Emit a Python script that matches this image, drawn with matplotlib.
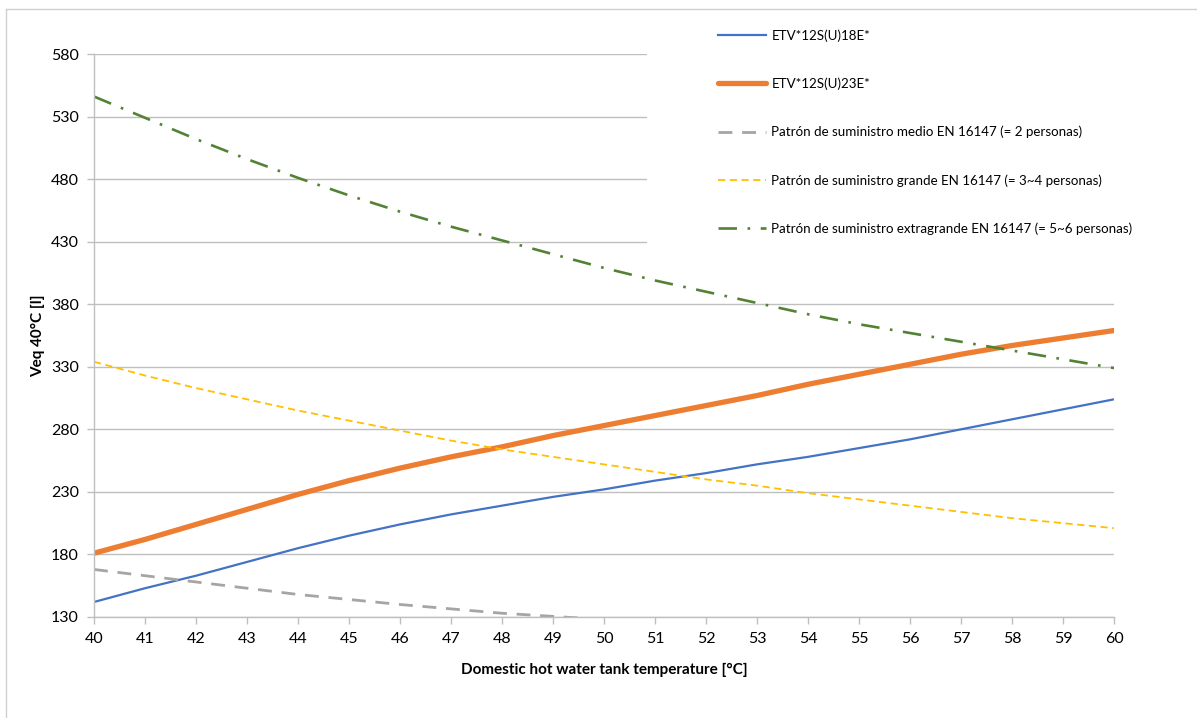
import numpy as np
import matplotlib.pyplot as plt
from matplotlib.lines import Line2D

# -----------------------------------------------------------------------------
# Data
# -----------------------------------------------------------------------------
temps = list(range(40, 61))

etv_18e = [142, 153, 163, 174, 185, 195, 204, 212, 219, 226, 232,
           239, 245, 252, 258, 265, 272, 280, 288, 296, 304]
etv_23e = [181, 192, 204, 216, 228, 239, 249, 258, 266, 275, 283,
           291, 299, 307, 316, 324, 332, 340, 347, 353, 359]
medio = [168, 163, 158, 153, 148, 144, 140, 136.5, 133, 130.5, 128,
         125, 122, 119, 117, 114, 112, 110, 108, 106, 104]
grande = [334, 323, 313, 304, 295, 287, 279, 271, 264, 258, 252,
          246, 240, 235, 229, 224, 219, 214, 209, 205, 201]
extragrande = [546, 529, 512, 496, 481, 467, 454, 442, 431, 420, 409,
               399, 390, 381, 372, 364, 357, 350, 343, 336, 329]

labels = ['ETV*12S(U)18E*',
          'ETV*12S(U)23E*',
          'Patrón de suministro medio EN 16147 (= 2 personas)',
          'Patrón de suministro grande EN 16147 (= 3~4 personas)',
          'Patrón de suministro extragrande EN 16147 (= 5~6 personas)']

y_ticks = list(range(130, 581, 50))

# -----------------------------------------------------------------------------
# Figure
# -----------------------------------------------------------------------------
plt.rcParams['font.family'] = ['Lato', 'DejaVu Sans']

W, H = 1197, 718
fig = plt.figure(figsize=(W / 100, H / 100), dpi=100)
ax = fig.add_axes([94 / W, 1 - 617 / H, (1114 - 94) / W, (617 - 54) / H])

grid_col = '#BFBFBF'

ax.plot(temps, etv_18e, color='#4472C4', lw=1.6, label=labels[0])
ax.plot(temps, etv_23e, color='#ED7D31', lw=3.8, label=labels[1],
        solid_capstyle='round')
ax.plot(temps, medio, color='#A5A5A5', lw=2.0, dashes=(5, 3.5), label=labels[2])
ax.plot(temps, grande, color='#FFC000', lw=1.3, dashes=(4, 2.5), label=labels[3])
ax.plot(temps, extragrande, color='#548235', lw=1.9,
        dashes=(7, 4, 1, 4), label=labels[4])

ax.set_xlim(40, 60)
ax.set_ylim(130, 580)
ax.set_xticks(temps)
ax.set_yticks(y_ticks)
ax.yaxis.grid(True, color=grid_col, lw=1)
ax.set_axisbelow(True)

for side in ['top', 'right']:
    ax.spines[side].set_visible(False)
for side in ['left', 'bottom']:
    ax.spines[side].set_color(grid_col)
    ax.spines[side].set_linewidth(1)

ax.tick_params(axis='both', colors=grid_col, length=5, width=1,
               labelcolor='black', labelsize=11.5, pad=6)

ax.set_xlabel('Domestic hot water tank temperature [°C]', fontsize=11,
              fontweight='bold', labelpad=12)
ax.set_ylabel('Veq 40°C [l]', fontsize=11, fontweight='bold', labelpad=4)

# white area behind the legend (hides the gridlines there)
fig.patches.append(plt.Rectangle((647 / W, 1 - 250 / H), 1 - 647 / W,
                                 (250 - 14) / H, transform=fig.transFigure,
                                 facecolor='white', edgecolor='none', zorder=1))

# chart area border (left and top edges visible)
fig.add_artist(Line2D([6 / W, 6 / W], [0, 1 - 9 / H], color='#D0D0D0', lw=1))
fig.add_artist(Line2D([6 / W, 1], [1 - 9 / H, 1 - 9 / H], color='#D0D0D0', lw=1))

leg = fig.legend(loc='upper left', bbox_to_anchor=(713 / W, 1 - 24 / H),
                 frameon=False, fontsize=9.6, handlelength=3.56,
                 handletextpad=0.42, labelspacing=2.68, borderaxespad=0)

fig.savefig('out.png', dpi=100)
